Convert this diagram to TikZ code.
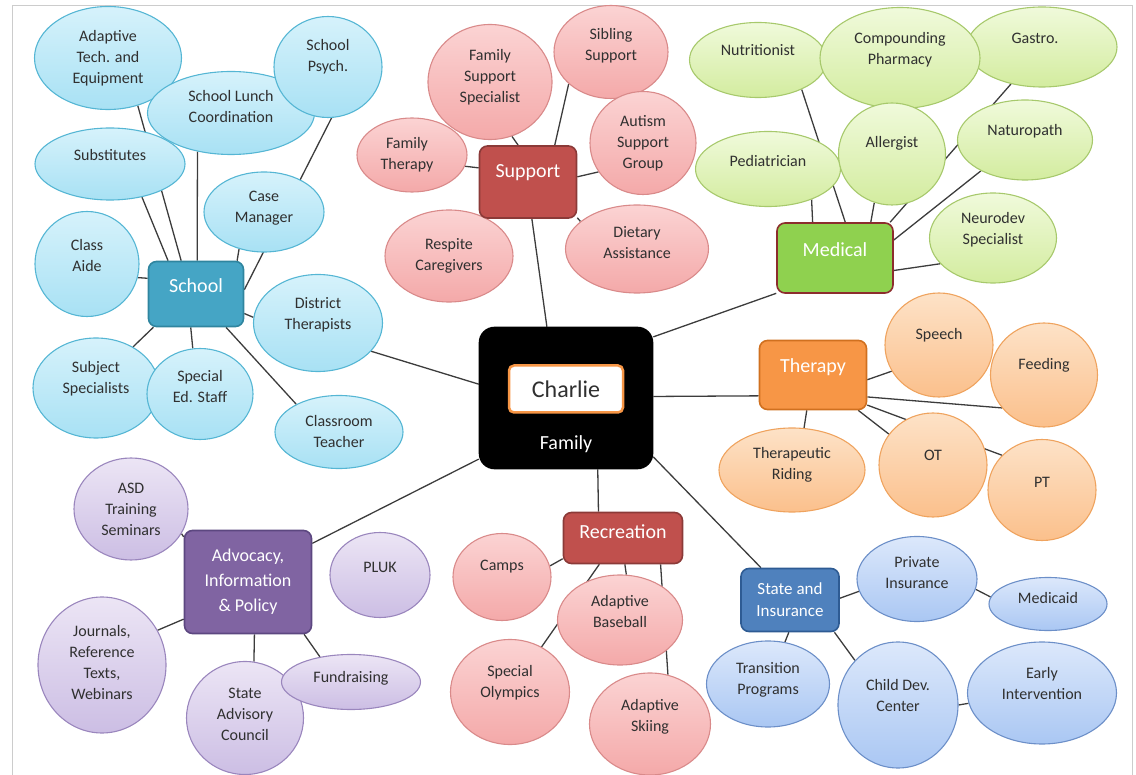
\documentclass[tikz,border=0pt]{standalone}
\usepackage{fontspec}
\setmainfont{Carlito}
\usepackage{tikz}
\usetikzlibrary{
  shapes.geometric,
  backgrounds
}
\definecolor{ink}{HTML}{303030}
\definecolor{linkgray}{HTML}{3C3C3C}
\definecolor{schtop}{HTML}{D6F2FB}
\definecolor{schbot}{HTML}{A8E1F4}
\definecolor{schline}{HTML}{55B6D4}
\definecolor{suptop}{HTML}{FBD3D3}
\definecolor{supbot}{HTML}{F4A9A9}
\definecolor{supline}{HTML}{D98A8A}
\definecolor{medtop}{HTML}{F0FADB}
\definecolor{medbot}{HTML}{D3EC9F}
\definecolor{medline}{HTML}{A7C96C}
\definecolor{thertop}{HTML}{FDE2C7}
\definecolor{therbot}{HTML}{FBC08C}
\definecolor{therline}{HTML}{EFA35E}
\definecolor{advtop}{HTML}{ECE5F5}
\definecolor{advbot}{HTML}{CCBEE4}
\definecolor{advline}{HTML}{9A86BD}
\definecolor{instop}{HTML}{DCE8FB}
\definecolor{insbot}{HTML}{AAC7F3}
\definecolor{insline}{HTML}{6C8FC8}
\definecolor{schoolbox}{HTML}{45A5C5}
\definecolor{schoolrim}{HTML}{2F859F}
\definecolor{redbox}{HTML}{C0504D}
\definecolor{redrim}{HTML}{8B3A38}
\definecolor{medbox}{HTML}{8FD14F}
\definecolor{medrim}{HTML}{8C2D2D}
\definecolor{therbox}{HTML}{F79646}
\definecolor{therrim}{HTML}{D0701F}
\definecolor{advbox}{HTML}{8064A2}
\definecolor{advrim}{HTML}{5C4780}
\definecolor{insbox}{HTML}{4F81BD}
\definecolor{insrim}{HTML}{2E5B93}
\tikzset{
  every label/.style={align=center, inner sep=0pt, text=ink, font=\fontsize{16}{21}\selectfont},
  bubble/.style={ellipse, draw, line width=1.1pt, inner sep=0pt},
  sch/.style={bubble, draw=schline, top color=schtop, bottom color=schbot},
  sup/.style={bubble, draw=supline, top color=suptop, bottom color=supbot},
  med/.style={bubble, draw=medline, top color=medtop, bottom color=medbot},
  ther/.style={bubble, draw=therline, top color=thertop, bottom color=therbot},
  adv/.style={bubble, draw=advline, top color=advtop, bottom color=advbot},
  ins/.style={bubble, draw=insline, top color=instop, bottom color=insbot},
  topic/.style={rectangle, rounded corners=8pt, line width=1.6pt, inner sep=0pt},
  hd/.style={text=white, font=\fontsize{20}{25}\selectfont},
  link/.style={draw=linkgray, line width=1.3pt},
  frame/.style={draw=gray!40, line width=0.8pt}
}
\begin{document}
\begin{tikzpicture}[x=1pt, y=-1pt]
    \useasboundingbox (0,0) rectangle (1136,775);
    % school
    \node[sch, minimum width=147, minimum height=103, label={center:Adaptive\\Tech. and\\Equipment}] (adapt) at (108,58) {};
    \node[sch, minimum width=167, minimum height=83, label={[yshift=6]center:School Lunch\\Coordination}] (lunch) at (231,113) {};
    \node[sch, minimum width=150, minimum height=72, label={[yshift=9]center:Substitutes}] (subs) at (110,164) {};
    \node[sch, minimum width=108, minimum height=101, label={[yshift=10]center:School\\Psych.}] (psych) at (328,67) {};
    \node[sch, minimum width=120, minimum height=80, label={[yshift=4]center:Case\\Manager}] (case) at (264,212) {};
    \node[sch, minimum width=104, minimum height=105, label={[yshift=8]center:Class\\Aide}] (aide) at (87,264) {};
    \node[sch, minimum width=129, minimum height=97, label={[yshift=8]center:District\\Therapists}] (district) at (318,323) {};
    \node[sch, minimum width=126, minimum height=100, label={[yshift=9]center:Subject\\Specialists}] (subject) at (96,388) {};
    \node[sch, minimum width=106, minimum height=91, label={[yshift=7]center:Special\\Ed. Staff}] (speced) at (200,394) {};
    \node[sch, minimum width=128, minimum height=73, label={center:Classroom\\Teacher}] (classroom) at (339,432) {};
    \node[topic, fill=schoolbox, draw=schoolrim, minimum width=95, minimum height=65, label={[hd, yshift=8]center:School}] (school) at (196,294) {};
    % support
    \node[sup, minimum width=124, minimum height=115, label={[yshift=5]center:Family\\Support\\Specialist}] (famsup) at (490,82) {};
    \node[sup, minimum width=114, minimum height=93, label={[yshift=6]center:Sibling\\Support}] (sibling) at (611,52) {};
    \node[sup, minimum width=110, minimum height=74, label={[xshift=-5]center:Family\\Therapy}] (famther) at (412,155) {};
    \node[sup, minimum width=106, minimum height=103, label={center:Autism\\Support\\Group}] (autism) at (643,143) {};
    \node[sup, minimum width=128, minimum height=92, label={center:Respite\\Caregivers}] (respite) at (449,256) {};
    \node[sup, minimum width=143, minimum height=88, label={[yshift=6]center:Dietary\\Assistance}] (dietary) at (637,249) {};
    \node[topic, fill=redbox, draw=redrim, minimum width=97, minimum height=72, label={[hd, yshift=9]center:Support}] (support) at (528,182) {};
    % medical
    \node[med, minimum width=137, minimum height=75, label={[yshift=10]center:Nutritionist}] (nutri) at (758,60) {};
    \node[med, minimum width=150, minimum height=80, label={[xshift=-7, yshift=9]center:Gastro.}] (gastro) at (1042,47) {};
    \node[med, minimum width=160, minimum height=101, label={[yshift=8]center:Compounding\\Pharmacy}] (pharm) at (900,58) {};
    \node[med, minimum width=145, minimum height=75, label={[yshift=8]center:Pediatrician}] (pedia) at (768,169) {};
    \node[med, minimum width=107, minimum height=102, label={[yshift=11]center:Allergist}] (allergist) at (892,154) {};
    \node[med, minimum width=135, minimum height=80, label={[yshift=9]center:Naturopath}] (naturo) at (1025,140) {};
    \node[med, minimum width=127, minimum height=90, label={[yshift=8]center:Neurodev\\Specialist}] (neuro) at (993,238) {};
    \node[topic, fill=medbox, draw=medrim, minimum width=116, minimum height=70, label={[hd, yshift=8]center:Medical}] (medical) at (835,258) {};
    % therapy
    \node[ther, minimum width=108, minimum height=104, label={[yshift=10]center:Speech}] (speech) at (939,345) {};
    \node[ther, minimum width=107, minimum height=104, label={[yshift=10]center:Feeding}] (feeding) at (1044,375) {};
    \node[ther, minimum width=146, minimum height=84, label={[yshift=5]center:Therapeutic\\Riding}] (riding) at (792,470) {};
    \node[ther, minimum width=108, minimum height=104, label={[yshift=10]center:OT}] (ot) at (933,465) {};
    \node[ther, minimum width=108, minimum height=101, label={[yshift=8]center:PT}] (pt) at (1042,490) {};
    \node[topic, fill=therbox, draw=therrim, minimum width=107, minimum height=69, label={[hd, yshift=8]center:Therapy}] (therapy) at (813,375) {};
    % advocacy
    \node[adv, minimum width=114, minimum height=102, label={center:ASD\\Training\\Seminars}] (asd) at (131,509) {};
    \node[adv, minimum width=100, minimum height=85, label={[yshift=8]center:PLUK}] (pluk) at (380,575) {};
    \node[adv, minimum width=128, minimum height=136, label={[yshift=2]center:{Journals,\\Reference\\Texts,\\Webinars}}] (journals) at (102,665) {};
    \node[adv, minimum width=117, minimum height=113, label={[yshift=4]center:State\\Advisory\\Council}] (council) at (245,718) {};
    \node[adv, minimum width=139, minimum height=55, label={[yshift=4]center:Fundraising}] (fund) at (351,682) {};
    \node[topic, fill=advbox, draw=advrim, minimum width=127, minimum height=103, label={[hd, font=\fontsize{18}{25}\selectfont]center:{Advocacy,\\Information\\\& Policy}}] (advocacy) at (248,582) {};
    % recreation
    \node[sup, minimum width=98, minimum height=87, label={[yshift=10]center:Camps}] (camps) at (502,577) {};
    \node[sup, minimum width=125, minimum height=90, label={[yshift=8]center:Adaptive\\Baseball}] (baseball) at (620,620) {};
    \node[sup, minimum width=119, minimum height=105, label={[yshift=9]center:Special\\Olympics}] (olympics) at (510,692) {};
    \node[sup, minimum width=121, minimum height=102, label={[yshift=7]center:Adaptive\\Skiing}] (skiing) at (650,724) {};
    \node[topic, fill=redbox, draw=redrim, minimum width=119, minimum height=51, label={[hd, yshift=6]center:Recreation}] (recreation) at (623,538) {};
    % state and insurance
    \node[ins, minimum width=120, minimum height=85, label={[yshift=6]center:Private\\Insurance}] (private) at (917,579) {};
    \node[ins, minimum width=118, minimum height=53, label={[yshift=6]center:Medicaid}] (medicaid) at (1048,604) {};
    \node[ins, minimum width=123, minimum height=86, label={[yshift=4]center:Transition\\Programs}] (transition) at (768,684) {};
    \node[ins, minimum width=120, minimum height=126, label={[yshift=9]center:Child Dev.\\Center}] (childdev) at (898,705) {};
    \node[ins, minimum width=149, minimum height=102, label={[yshift=9]center:Early\\Intervention}] (early) at (1042,693) {};
    \node[topic, fill=insbox, draw=insrim, minimum width=98, minimum height=63, label={[hd, font=\fontsize{17}{22}\selectfont]center:State and\\Insurance}] (state) at (790,600) {};
    % hub
    \node[topic, fill=black, draw=black, rounded corners=15pt, minimum width=173, minimum height=141, label={[hd, font=\fontsize{20}{24}\selectfont, yshift=-46]center:Family}] (hub) at (566,398) {};
    \node[fill=white, draw=therbox, line width=2.5pt, rounded corners=5pt, minimum width=114, minimum height=47, text=ink, font=\fontsize{24}{28}\selectfont] (charlie) at (566,389) {Charlie};

    \begin{pgfonlayer}{background}
    \draw[frame] (12,775) -- (12,5) -- (1132,5) -- (1132,775);
    \begin{scope}[link]
    \draw (adapt.-58) -- (school.114);
    \draw (subs.-46) -- (school.130);
    \draw (lunch.-131) -- (school.88);
    \draw (psych.-86) -- (school.5);
    \draw (case.-124) -- (school.39);
    \draw (aide.-15) -- (school.162);
    \draw (district.175) -- (school.-22);
    \draw (subject.48) -- (school.-142);
    \draw (speced.99) -- (school.-99);
    \draw (classroom.147) -- (school.-48);
    \draw (district.-28) -- (hub.171);
    \draw (famsup.-68) -- (support.105);
    \draw (sibling.-143) -- (support.54);
    \draw (famther.-12) -- (support.164);
    \draw (autism.-147) -- (support.6);
    \draw (respite.53) -- (support.-144);
    \draw (dietary.154) -- (support.-36);
    \draw (support.-84) -- (hub.105);
    \draw (nutri.-34) -- (medical.74);
    \draw (pedia.-35) -- (medical.122);
    \draw (allergist.-110) -- (medical.45);
    \draw (gastro.-130) -- (medical.33);
    \draw (naturo.-145) -- (medical.17);
    \draw (neuro.-154) -- (medical.-12);
    \draw (medical.-149) -- (hub.35);
    \draw (hub.1) -- (therapy.-159);
    \draw (speech.-151) -- (therapy.-5);
    \draw (feeding.-142) -- (therapy.-22);
    \draw (pt.139) -- (therapy.-29);
    \draw (ot.145) -- (therapy.-38);
    \draw (riding.74) -- (therapy.-100);
    \draw (asd.-26) -- (advocacy.145);
    \draw (journals.32) -- (advocacy.-150);
    \draw (council.81) -- (advocacy.-83);
    \draw (fund.141) -- (advocacy.-43);
    \draw (advocacy.31) -- (hub.-145);
    \draw (hub.-66) -- (recreation.133);
    \draw (camps.13) -- (recreation.-161);
    \draw (olympics.55) -- (recreation.-132);
    \draw (baseball.82) -- (recreation.-86);
    \draw (skiing.70) -- (recreation.-35);
    \draw (hub.-34) -- (state.132);
    \draw (private.-168) -- (state.2);
    \draw (medicaid.173) -- (private.-10);
    \draw (transition.68) -- (state.-92);
    \draw (childdev.134) -- (state.-36);
    \draw (early.-172) -- (childdev.0);
    \end{scope}
    \end{pgfonlayer}
\end{tikzpicture}
\end{document}
